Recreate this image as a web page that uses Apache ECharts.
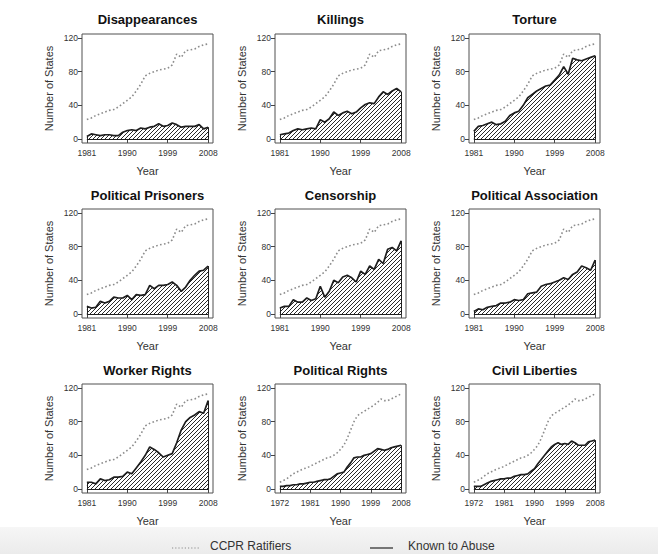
<!DOCTYPE html>
<html><head><meta charset="utf-8">
<script src="https://cdn.jsdelivr.net/npm/echarts@6/dist/echarts.min.js"></script>
<style>html,body{margin:0;padding:0;background:#fff}#c{width:658px;height:554px}</style>
</head><body><div id="c"></div>
<script>
// ---- data ----
const yearsA = [1981,1982,1983,1984,1985,1986,1987,1988,1989,1990,1991,1992,1993,1994,1995,1996,1997,1998,1999,2000,2001,2002,2003,2004,2005,2006,2007,2008];
const yearsB = [1972,1973,1974,1975,1976,1977,1978,1979,1980,1981,1982,1983,1984,1985,1986,1987,1988,1989,1990,1991,1992,1993,1994,1995,1996,1997,1998,1999,2000,2001,2002,2003,2004,2005,2006,2007,2008];
const ticksA = [1981,1990,1999,2008];
const ticksB = [1972,1981,1990,1999,2008];
const yTicks = [0,40,80,120];

const ccprA = [23,25,28,30,32,34,35,38,42,46,50,57,65,75,78,80,82,83,84,88,101,97,105,106,107,110,112,113];
const ccprB = [8,10,12,15,18,20,22,24,25,27,29,31,33,35,37,38,40,43,47,52,60,70,80,87,90,92,95,97,100,103,107,105,105,107,109,111,113];

const disappearances = [3,6,5,4,5,5,4,4,8,10,11,10,13,12,14,15,18,15,16,19,17,14,15,15,15,17,12,14];
const killings = [5,6,7,10,12,11,12,13,12,23,20,24,32,28,31,33,30,32,37,41,43,42,50,56,53,57,60,56];
const torture = [9,15,16,18,20,17,18,21,28,31,33,40,49,53,57,60,63,64,70,76,86,77,96,94,93,95,97,99];
const politicalPrisoners = [9,7,8,15,13,15,20,19,19,22,17,23,22,23,34,30,34,34,35,38,34,27,32,40,46,51,52,57];
const censorship = [7,9,9,17,14,14,19,16,18,33,20,27,40,37,44,46,43,38,51,47,57,53,65,60,77,79,75,87];
const politicalAssociation = [3,6,5,8,9,10,13,13,14,17,16,17,24,25,26,33,35,36,38,40,43,41,47,50,57,55,52,64];
const workerRights = [8,8,6,12,10,11,14,14,15,20,18,25,32,40,50,47,43,38,40,42,55,70,80,85,88,92,90,105];
const politicalRights = [3,3,4,4,5,5,6,6,7,8,8,9,10,11,11,12,15,18,19,20,26,31,37,38,38,40,41,42,45,48,47,46,47,49,50,51,52];
const civilLiberties = [3,3,3,5,7,9,10,11,12,12,13,13,15,16,17,17,18,21,24,30,35,40,45,50,53,55,53,54,53,57,55,52,52,52,56,57,58];

const titles = ['Disappearances','Killings','Torture','Political Prisoners','Censorship','Political Association','Worker Rights','Political Rights','Civil Liberties'];
const legendNames = ['CCPR Ratifiers','Known to Abuse'];
const yName = 'Number of States';
const xName = 'Year';

// ---- build ----
const panels = [
  {abuse: disappearances, years: yearsA, ccpr: ccprA, ticks: ticksA},
  {abuse: killings, years: yearsA, ccpr: ccprA, ticks: ticksA},
  {abuse: torture, years: yearsA, ccpr: ccprA, ticks: ticksA},
  {abuse: politicalPrisoners, years: yearsA, ccpr: ccprA, ticks: ticksA},
  {abuse: censorship, years: yearsA, ccpr: ccprA, ticks: ticksA},
  {abuse: politicalAssociation, years: yearsA, ccpr: ccprA, ticks: ticksA},
  {abuse: workerRights, years: yearsA, ccpr: ccprA, ticks: ticksA},
  {abuse: politicalRights, years: yearsB, ccpr: ccprB, ticks: ticksB},
  {abuse: civilLiberties, years: yearsB, ccpr: ccprB, ticks: ticksB}
];

function hatch(){
  const c = document.createElement('canvas');
  c.width = 4; c.height = 4;
  const g = c.getContext('2d');
  g.strokeStyle = '#2a2a2a'; g.lineWidth = 1;
  g.beginPath();
  g.moveTo(0,4); g.lineTo(4,0);
  g.moveTo(-1,1); g.lineTo(1,-1);
  g.moveTo(3,5); g.lineTo(5,3);
  g.stroke();
  return c;
}
const hatchImg = hatch();

const colLeft = [82, 275, 469];
const rowTop = [34, 209, 384];
const boxW = 131, boxH = 109;
const titleTop = [13, 189, 364];

const grid = [], xAxis = [], yAxis = [], series = [], title = [];
const font = 'Liberation Sans, Arial, Helvetica, sans-serif';

panels.forEach((p, i) => {
  const r = Math.floor(i / 3), c = i % 3;
  grid.push({left: colLeft[c], top: rowTop[r], width: boxW, height: boxH, show: true, borderColor: '#505050', borderWidth: 1, backgroundColor: 'transparent'});
  const x0 = p.years[0], x1 = p.years[p.years.length - 1];
  const pad = (x1 - x0) * 0.04;
  xAxis.push({
    type: 'value', gridIndex: i, min: x0 - pad, max: x1 + pad,
    axisLine: {show: false},
    axisTick: {show: true, length: 4, customValues: p.ticks, lineStyle: {color: '#444', width: 1}},
    axisLabel: {customValues: p.ticks, fontSize: 8.5, color: '#333', margin: 5, fontFamily: font, formatter: v => String(Math.round(v))},
    splitLine: {show: false},
    name: xName, nameLocation: 'middle', nameGap: 22,
    nameTextStyle: {fontSize: 11, color: '#333', fontFamily: font}
  });
  yAxis.push({
    type: 'value', gridIndex: i, min: -4.8, max: 124.8,
    axisLine: {show: false},
    axisTick: {show: true, length: 4, customValues: yTicks, lineStyle: {color: '#444', width: 1}},
    axisLabel: {customValues: yTicks, fontSize: 8.5, color: '#333', margin: 4, fontFamily: font, formatter: v => String(Math.round(v))},
    splitLine: {show: false},
    name: yName, nameLocation: 'middle', nameGap: 28, nameRotate: 90,
    nameTextStyle: {fontSize: 11, color: '#333', fontFamily: font}
  });
  title.push({
    text: titles[i], left: colLeft[c] + boxW / 2, top: titleTop[r], textAlign: 'center', padding: 0,
    textStyle: {fontSize: 13, fontWeight: 'bold', color: '#111', fontFamily: font}
  });
  const ab = p.abuse;
  series.push({
    name: legendNames[1], type: 'line', xAxisIndex: i, yAxisIndex: i,
    data: p.years.map((y, k) => [y, ab[k]]),
    symbol: 'none', silent: true, z: 2,
    lineStyle: {color: '#1e1e1e', width: 1.7},
    areaStyle: {color: {image: hatchImg, repeat: 'repeat'}, opacity: 1},
    markLine: {
      silent: true, symbol: ['none','none'], label: {show: false},
      lineStyle: {color: '#1e1e1e', width: 1, type: 'solid'},
      data: [
        [{coord: [x0, 0]}, {coord: [x0, ab[0]]}],
        [{coord: [x1, 0]}, {coord: [x1, ab[ab.length - 1]]}],
        [{coord: [x0, 0]}, {coord: [x1, 0]}]
      ]
    }
  });
  series.push({
    name: legendNames[0], type: 'line', xAxisIndex: i, yAxisIndex: i,
    data: p.years.map((y, k) => [y, p.ccpr[k]]),
    symbol: 'none', silent: true, z: 3,
    lineStyle: {color: '#8c8c8c', width: 1.6, type: [1.6, 2.4]}
  });
});

const chart = echarts.init(document.getElementById('c'), null, {renderer: 'svg'});
chart.setOption({
  animation: false,
  backgroundColor: '#ffffff',
  title, grid, xAxis, yAxis, series,
  graphic: [
    {type: 'rect', left: 0, top: 527, z: -10, shape: {width: 658, height: 27},
      style: {fill: new echarts.graphic.LinearGradient(0, 0, 0, 1, [{offset: 0, color: '#f6f6f6'}, {offset: 1, color: '#ebebeb'}])}, silent: true},
    {type: 'line', shape: {x1: 172, y1: 548, x2: 200, y2: 548}, style: {stroke: '#8c8c8c', lineWidth: 1.2, lineDash: [1.2, 2]}, silent: true},
    {type: 'text', left: 210, top: 540, style: {text: legendNames[0], fontSize: 12, fill: '#333', fontFamily: font}, silent: true},
    {type: 'line', shape: {x1: 370, y1: 548, x2: 393, y2: 548}, style: {stroke: '#333', lineWidth: 1.3}, silent: true},
    {type: 'text', left: 408, top: 540, style: {text: legendNames[1], fontSize: 12, fill: '#333', fontFamily: font}, silent: true}
  ]
});
</script>
</body></html>
